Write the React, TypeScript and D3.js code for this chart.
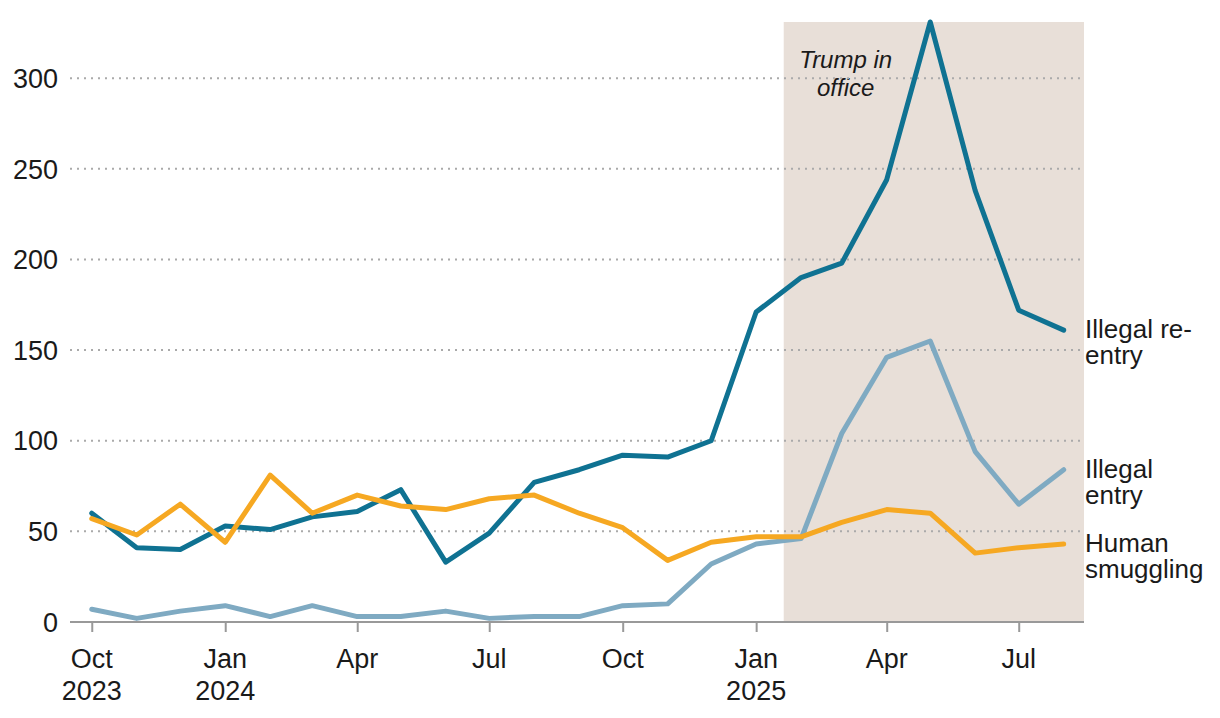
import { useEffect, useRef } from 'react'
import { axisBottom, line, scaleLinear, scaleTime, select } from 'd3'

const months = [
  '2023-10', '2023-11', '2023-12', '2024-01', '2024-02', '2024-03', '2024-04',
  '2024-05', '2024-06', '2024-07', '2024-08', '2024-09', '2024-10', '2024-11',
  '2024-12', '2025-01', '2025-02', '2025-03', '2025-04', '2025-05', '2025-06',
  '2025-07', '2025-08',
]

const illegalReentry = [
  60, 41, 40, 53, 51, 58, 61, 73, 33, 49, 77, 84, 92, 91, 100, 171, 190, 198,
  244, 331, 238, 172, 161,
]

const illegalEntry = [
  7, 2, 6, 9, 3, 9, 3, 3, 6, 2, 3, 3, 9, 10, 32, 43, 46, 104, 146, 155, 94, 65,
  84,
]

const humanSmuggling = [
  57, 48, 65, 44, 81, 60, 70, 64, 62, 68, 70, 60, 52, 34, 44, 47, 47, 55, 62, 60,
  38, 41, 43,
]

const yTicks = [0, 50, 100, 150, 200, 250, 300]
const xTickMonths = ['2023-10', '2024-01', '2024-04', '2024-07', '2024-10', '2025-01', '2025-04', '2025-07']
const xTickLabels = [
  ['Oct', '2023'], ['Jan', '2024'], ['Apr'], ['Jul'], ['Oct'], ['Jan', '2025'], ['Apr'], ['Jul'],
]

const parseMonth = (m: string) => {
  const [y, mo] = m.split('-').map(Number)
  return new Date(y, mo - 1, 1)
}

const dates = months.map(parseMonth)

const series = [
  { name: ['Illegal re-', 'entry'], values: illegalReentry, color: '#0f7292' },
  { name: ['Illegal', 'entry'], values: illegalEntry, color: '#7faac2' },
  { name: ['Human', 'smuggling'], values: humanSmuggling, color: '#f6a822' },
]

const width = 1220
const height = 718
const margin = { top: 22, right: 136, bottom: 96, left: 70 }
const font = '"Liberation Sans", Arial, sans-serif'
const textColor = '#1a1a1a'

export default function App() {
  const xAxisRef = useRef<SVGGElement>(null)

  const innerWidth = width - margin.left - margin.right
  const innerHeight = height - margin.top - margin.bottom

  const x = scaleTime()
    .domain([new Date(2023, 8, 16), new Date(2025, 7, 15)])
    .range([0, innerWidth])

  const y = scaleLinear().domain([0, 331]).range([innerHeight, 0])

  const lineGen = line<number>()
    .x((_, i) => x(dates[i]))
    .y((d) => y(d))

  const shadeStart = x(new Date(2025, 0, 20))

  useEffect(() => {
    if (!xAxisRef.current) return
    const g = select(xAxisRef.current)
    g.call(
      axisBottom(x)
        .tickValues(xTickMonths.map(parseMonth))
        .tickSize(10)
        .tickFormat(() => ''),
    )
    g.select('.domain').attr('stroke', '#999').attr('stroke-width', 2).attr('d', `M0,0H${innerWidth}`)
    g.selectAll('.tick line').attr('stroke', '#999').attr('stroke-width', 2)
    g.selectAll('.tick text').remove()
  }, [])

  return (
    <svg
      width={width}
      height={height}
      style={{ position: 'absolute', left: 0, top: 0, background: '#fff' }}
      fontFamily={font}
    >
      <g transform={`translate(${margin.left}, ${margin.top})`}>
        <rect
          x={shadeStart}
          y={0}
          width={innerWidth - shadeStart}
          height={innerHeight}
          fill="#e8dfd8"
        />
        <text textAnchor="middle" fontStyle="italic" fontSize={24} fill={textColor}>
          <tspan x={shadeStart + 62} y={46}>Trump in</tspan>
          <tspan x={shadeStart + 62} y={74}>office</tspan>
        </text>

        {yTicks.filter((t) => t > 0).map((t) => (
          <line
            key={t}
            x1={0}
            x2={innerWidth}
            y1={y(t)}
            y2={y(t)}
            stroke="#aaa"
            strokeWidth={2}
            strokeDasharray="2 5"
          />
        ))}
        {yTicks.map((t) => (
          <text
            key={t}
            x={-12}
            y={y(t)}
            dy="0.36em"
            textAnchor="end"
            fontSize={27}
            fill={textColor}
          >
            {t}
          </text>
        ))}

        {series.map((s) => (
          <path
            key={s.name.join(' ')}
            d={lineGen(s.values) ?? ''}
            fill="none"
            stroke={s.color}
            strokeWidth={5}
            strokeLinejoin="round"
            strokeLinecap="round"
          />
        ))}

        {series.map((s) => {
          const last = s.values[s.values.length - 1]
          const ly = y(last)
          const lx = innerWidth + 1
          return (
            <text key={s.name.join(' ')} fontSize={26} fill={textColor}>
              <tspan x={lx} y={ly + 8}>{s.name[0]}</tspan>
              <tspan x={lx} y={ly + 34}>{s.name[1]}</tspan>
            </text>
          )
        })}

        <g ref={xAxisRef} transform={`translate(0, ${innerHeight})`} />
        {xTickMonths.map((m, i) => (
          <text
            key={m}
            textAnchor="middle"
            fontSize={27}
            fill={textColor}
          >
            {xTickLabels[i].map((label, j) => (
              <tspan key={label} x={x(parseMonth(m))} y={innerHeight + 46 + j * 32}>
                {label}
              </tspan>
            ))}
          </text>
        ))}
      </g>
    </svg>
  )
}
